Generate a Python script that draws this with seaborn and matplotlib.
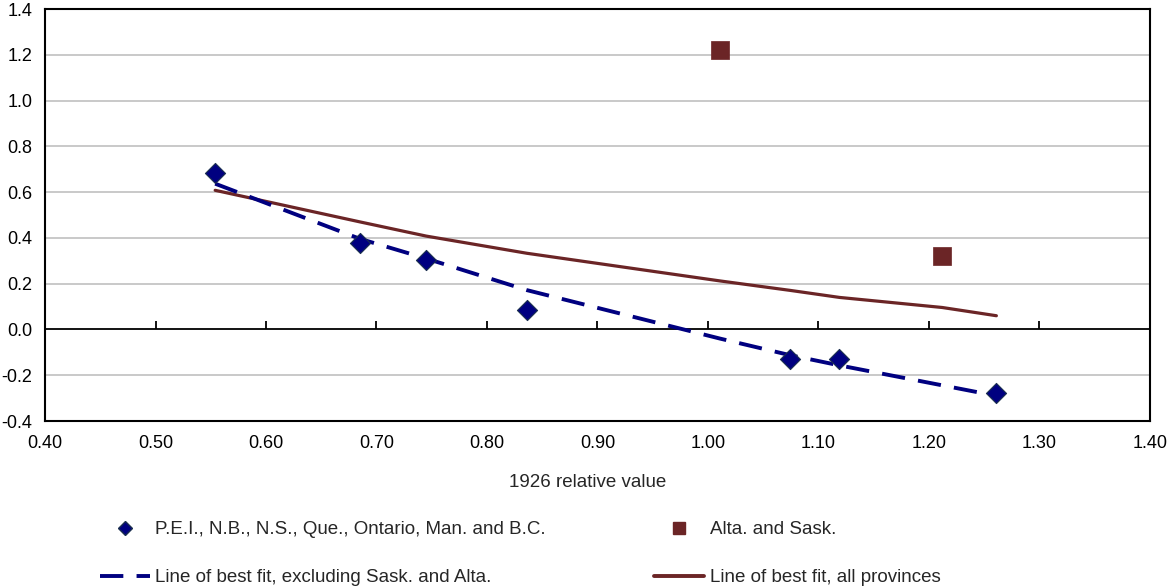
import matplotlib
matplotlib.use("Agg")
import matplotlib.pyplot as plt
import seaborn as sns
import pandas as pd
from matplotlib.lines import Line2D

# ---- data ----
other_x = [0.554, 0.685, 0.745, 0.836, 1.074, 1.119, 1.261]
other_y = [0.683, 0.376, 0.302, 0.083, -0.127, -0.127, -0.277]

prairie_x = [1.011, 1.212]
prairie_y = [1.221, 0.322]

fit_excl_x = [0.554, 0.685, 0.745, 0.836, 1.011, 1.074, 1.119, 1.261]
fit_excl_y = [0.637, 0.396, 0.310, 0.172, -0.040, -0.112, -0.157, -0.290]

fit_all_x = [0.554, 0.685, 0.745, 0.836, 1.011, 1.074, 1.119, 1.212, 1.261]
fit_all_y = [0.608, 0.470, 0.408, 0.333, 0.212, 0.171, 0.140, 0.096, 0.060]

x_ticks = [0.40, 0.50, 0.60, 0.70, 0.80, 0.90, 1.00, 1.10, 1.20, 1.30, 1.40]
y_ticks = [-0.4, -0.2, 0.0, 0.2, 0.4, 0.6, 0.8, 1.0, 1.2, 1.4]

labels = ["P.E.I., N.B., N.S., Que., Ontario, Man. and B.C.",
          "Alta. and Sask.",
          "Line of best fit, excluding Sask. and Alta.",
          "Line of best fit, all provinces"]
x_label = "1926 relative value"

# ---- styling ----
sns.set_theme(style="white")
plt.rcParams["font.family"] = ["Liberation Sans", "DejaVu Sans"]
plt.rcParams["font.size"] = 12

BLUE = "#000080"
BLUE_EDGE = "#1b2f4f"
RED = "#6b2526"
GRID = "#c0c0c0"

fig = plt.figure(figsize=(11.72, 5.88), dpi=100)
ax = fig.add_axes([0.0384, 0.284, 0.9428, 0.7006])

df_o = pd.DataFrame({"x": other_x, "y": other_y})
df_p = pd.DataFrame({"x": prairie_x, "y": prairie_y})
df_fe = pd.DataFrame({"x": fit_excl_x, "y": fit_excl_y})
df_fa = pd.DataFrame({"x": fit_all_x, "y": fit_all_y})

# horizontal grid (except the zero line which is drawn black)
for v in y_ticks[1:-1]:
    if v != 0.0:
        ax.axhline(v, color=GRID, lw=1.2, zorder=0)
ax.axhline(0.0, color="black", lw=1.3, zorder=1)

sns.lineplot(data=df_fa, x="x", y="y", ax=ax, color=RED, lw=2.3,
             sort=False, estimator=None, zorder=3)
sns.lineplot(data=df_fe, x="x", y="y", ax=ax, color=BLUE, lw=2.8,
             sort=False, estimator=None, zorder=4, dashes=False)
ax.lines[-1].set_dashes([6.0, 3.4])

sns.scatterplot(data=df_o, x="x", y="y", ax=ax, marker="D", s=105,
                color=BLUE, edgecolor=BLUE_EDGE, linewidth=0.8, zorder=5)
sns.scatterplot(data=df_p, x="x", y="y", ax=ax, marker="s", s=150,
                color=RED, edgecolor=RED, linewidth=0.5, zorder=5)

ax.set_xlim(0.40, 1.40)
ax.set_ylim(-0.4, 1.4)
ax.set_xticks(x_ticks)
ax.set_xticklabels([f"{v:.2f}" for v in x_ticks])
ax.set_yticks(y_ticks)
ax.set_yticklabels([f"{v:.1f}" for v in y_ticks])
ax.tick_params(axis="both", length=0, labelsize=13, colors="black")
ax.tick_params(axis="x", pad=10)
ax.tick_params(axis="y", pad=9)
ax.set_xlabel(x_label, fontsize=13.5)
ax.xaxis.set_label_coords(0.491, -0.128)
ax.set_ylabel("")

for s in ax.spines.values():
    s.set_visible(True)
    s.set_color("black")
    s.set_linewidth(1.5)

# tick marks on the zero line
sec = ax.secondary_xaxis(0.0, transform=ax.transData)
sec.set_xticks(x_ticks[1:-1])
sec.tick_params(axis="x", direction="in", length=6, width=1.3,
                colors="black", labelbottom=False, labeltop=False)
for s in sec.spines.values():
    s.set_visible(False)

handles = [
    Line2D([], [], ls="none", marker="D", markersize=7, color=BLUE,
           markeredgecolor=BLUE_EDGE),
    Line2D([], [], color=BLUE, lw=2.8, dashes=[6.0, 3.4]),
    Line2D([], [], ls="none", marker="s", markersize=9, color=RED),
    Line2D([], [], color=RED, lw=2.8),
]
leg_labels = [labels[0], labels[2], labels[1], labels[3]]
fig.legend(handles, leg_labels, ncol=2, frameon=False,
           loc="upper left", bbox_to_anchor=(0.0853, 0.114),
           fontsize=13.5, handlelength=2.67, handletextpad=0.29,
           columnspacing=5.76, labelspacing=1.66, borderaxespad=0,
           borderpad=0)

fig.savefig("out.png", dpi=100)
